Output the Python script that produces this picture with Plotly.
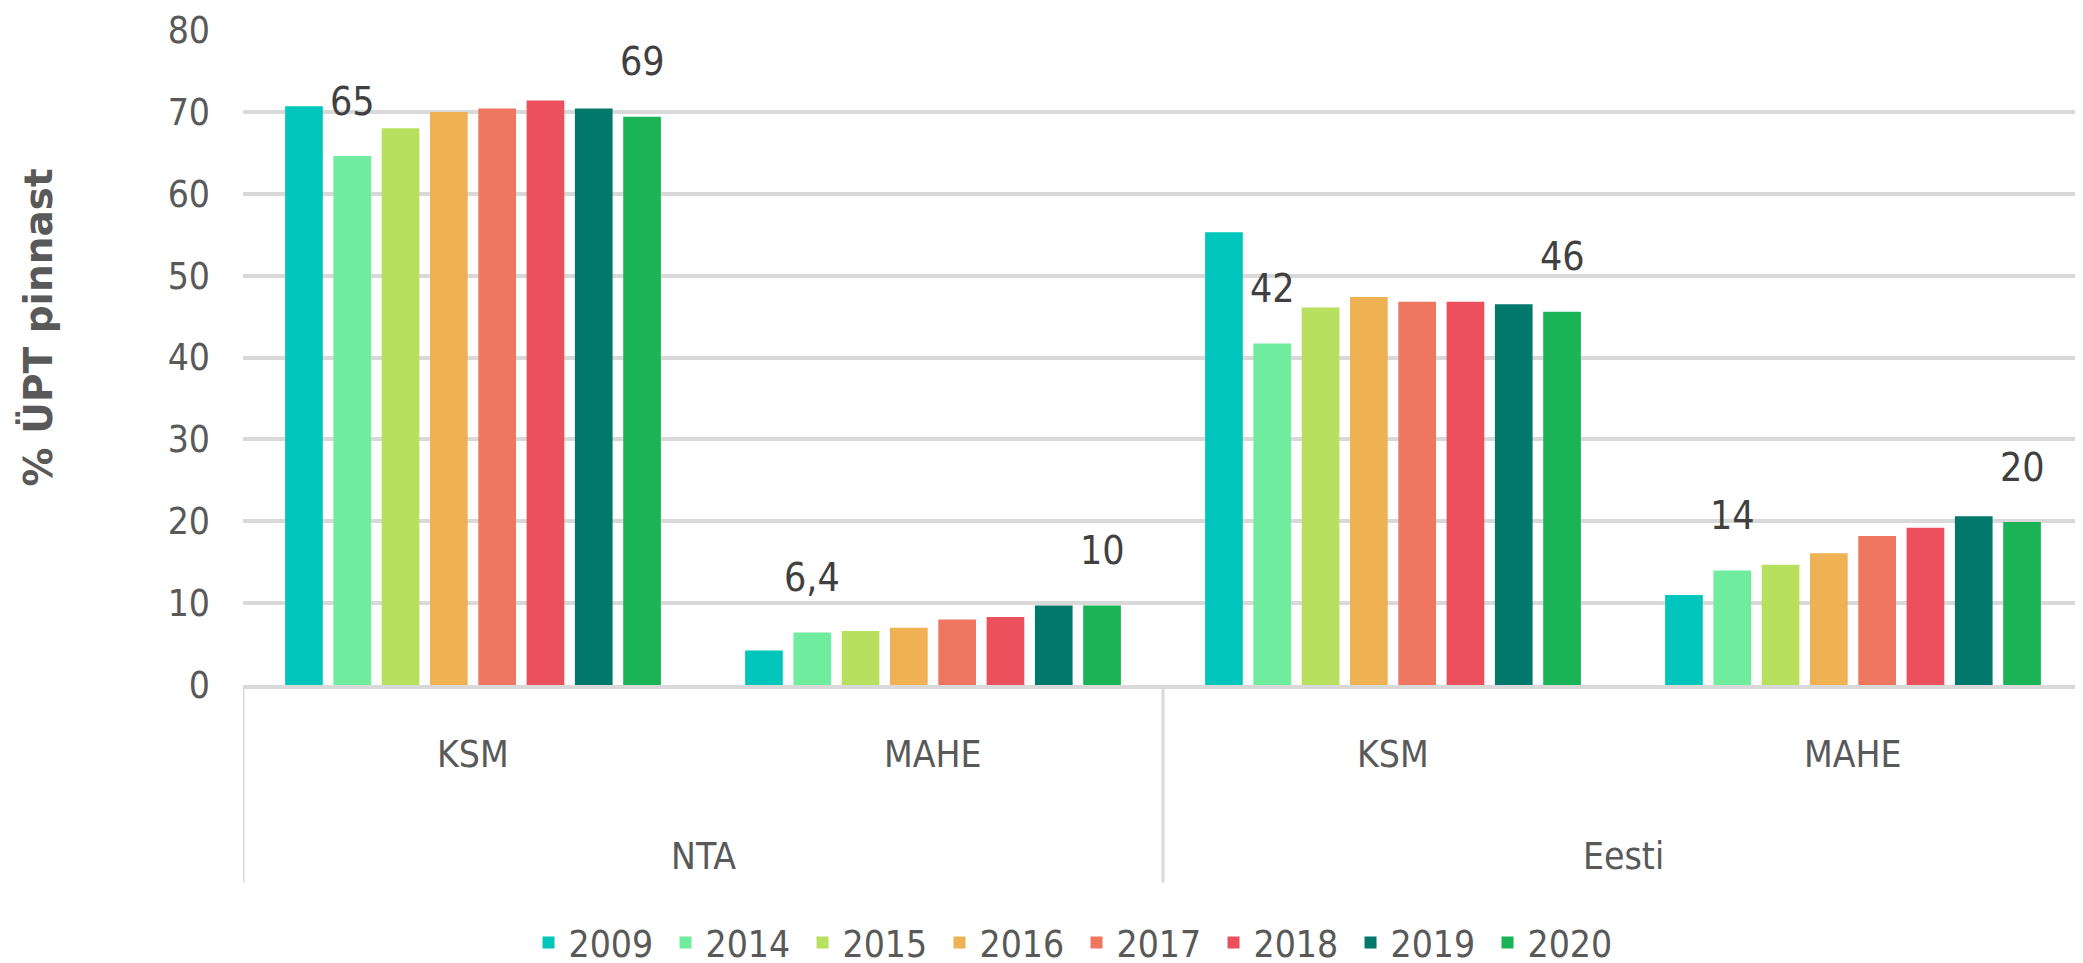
import plotly.graph_objects as go

# ---- data -------------------------------------------------------------
regions = ["NTA", "NTA", "Eesti", "Eesti"]
kinds = ["KSM", "MAHE", "KSM", "MAHE"]
years = ["2009", "2014", "2015", "2016", "2017", "2018", "2019", "2020"]

v2009 = [70.7, 4.2, 55.3, 11.0]
v2014 = [64.6, 6.4, 41.7, 14.0]
v2015 = [68.0, 6.6, 46.1, 14.7]
v2016 = [70.0, 7.0, 47.4, 16.1]
v2017 = [70.4, 8.0, 46.8, 18.2]
v2018 = [71.4, 8.3, 46.8, 19.2]
v2019 = [70.4, 9.7, 46.5, 20.6]
v2020 = [69.4, 9.7, 45.6, 19.9]
series = [v2009, v2014, v2015, v2016, v2017, v2018, v2019, v2020]

labelled_years = ["2014", "2020"]

colors = ["#00C6BB", "#6FEC9D", "#B6E05E", "#EEB153",
          "#EF765F", "#EC505D", "#02776C", "#1AB456"]

y_title = "% ÜPT pinnast"

# ---- style ------------------------------------------------------------
NARROW = "DejaVu Sans Condensed, Liberation Sans Narrow, sans-serif"
GREY = "#595959"
GRID = "#D9D9D9"
BARGAP = 0.16
BARGROUPGAP = 0.22
FS = 37

fig = go.Figure()
for yr, vals, col in zip(years, series, colors):
    fig.add_trace(go.Bar(
        name=yr, x=[regions, kinds], y=vals,
        marker=dict(color=col, line=dict(width=0)),
    ))


def fmt(v):
    r = round(v)
    return str(r) if r >= 10 else f"{v:.1f}".replace(".", ",")


n = len(years)
pitch = (1 - BARGAP) / n
annotations = []
shapes = []

# data labels
for yr in labelled_years:
    j = years.index(yr)
    for i, v in enumerate(series[j]):
        annotations.append(dict(
            xref="x2", yref="y", x=i + (j - (n - 1) / 2) * pitch, y=v,
            text=fmt(v), showarrow=False, yanchor="middle", yshift=55,
            font=dict(family=NARROW, size=FS + 2, color="#404040"),
        ))

# hierarchical category labels
for i, k in enumerate(kinds):
    annotations.append(dict(
        xref="x2", yref="paper", x=i, y=-0.106, text=k, showarrow=False,
        yanchor="middle", font=dict(family=NARROW, size=FS, color=GREY),
    ))
groups = []
for i, r in enumerate(regions):
    if not groups or groups[-1][0] != r:
        groups.append([r, i, i])
    else:
        groups[-1][2] = i
for r, a, b in groups:
    annotations.append(dict(
        xref="x2", yref="paper", x=(a + b) / 2, y=-0.262, text=r,
        showarrow=False, yanchor="middle",
        font=dict(family=NARROW, size=FS, color=GREY),
    ))
    shapes.append(dict(
        type="line", xref="x2", yref="paper", x0=a - 0.5, x1=a - 0.5,
        y0=0, y1=-0.3015, line=dict(color=GRID, width=3),
    ))

annotations.append(dict(
    xref="paper", yref="paper", x=-0.1114, y=0.546, text=y_title,
    textangle=-90, showarrow=False, xanchor="center", yanchor="middle",
    font=dict(family="DejaVu Sans", size=39, color=GREY, weight="bold"),
))

fig.update_layout(
    width=2083, height=963,
    margin=dict(l=235, r=8, t=22, b=286, autoexpand=False),
    paper_bgcolor="white", plot_bgcolor="white",
    barmode="group", bargap=BARGAP, bargroupgap=BARGROUPGAP,
    showlegend=True,
    legend=dict(
        orientation="h", xref="paper", yref="container",
        x=0.453, xanchor="center", y=0.029, yanchor="middle",
        font=dict(family=NARROW, size=FS, color=GREY),
        entrywidth=92, entrywidthmode="pixels",
        traceorder="normal",
    ),
    xaxis=dict(
        type="multicategory", range=[-0.5, 3.5], automargin=False,
        showgrid=False, showline=True, linecolor=GRID, linewidth=4,
        showdividers=False, showticklabels=False, ticks="",
    ),
    xaxis2=dict(overlaying="x", range=[-0.5, 3.5], visible=False),
    yaxis=dict(
        range=[0, 80], dtick=10, showgrid=True, gridcolor=GRID, gridwidth=3.5,
        zeroline=False, showline=False, automargin=False,
        tickfont=dict(family=NARROW, size=FS, color=GREY),
        ticklabelstandoff=32,
    ),
    annotations=annotations,
    shapes=shapes,
)

fig.write_html("out.html")
